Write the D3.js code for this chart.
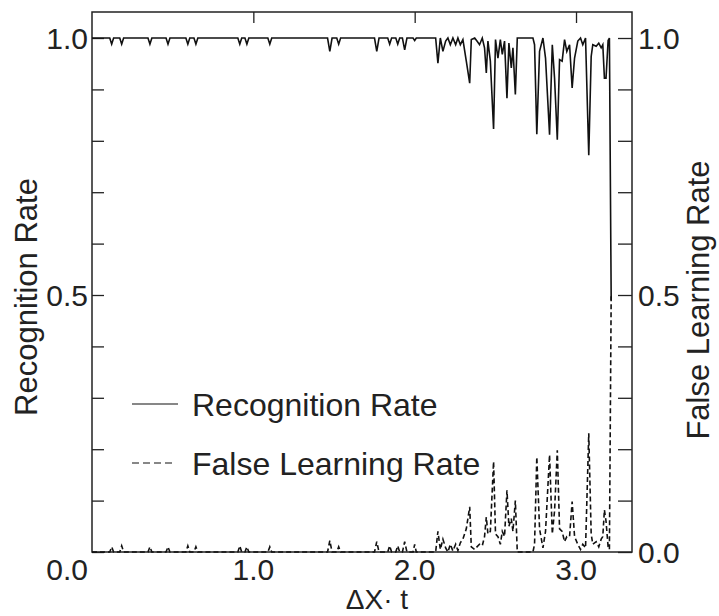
<!DOCTYPE html>
<html lang="en">
<head>
<meta charset="UTF-8">
<title>Recognition Rate vs False Learning Rate</title>
<script src="https://d3js.org/d3.v7.min.js"></script>
<style>
    body { margin: 0; background: white; }
    text { font-family: "Liberation Sans", Arial, sans-serif; fill: #222; }
    .frame { fill: none; stroke: #222; stroke-width: 1.5; }
    .tick line { stroke: #222; stroke-width: 1.3; }
</style>
</head>
<body>
<svg id="chart"></svg>
<script>
// x values (ΔX·t) shared by both series
var xs = [0.00, 0.110, 0.122, 0.134, 0.172, 0.184, 0.196, 0.347, 0.359, 0.371, 0.459, 0.471, 0.483,
    0.582, 0.594, 0.606, 0.632, 0.644, 0.656, 0.904, 0.916, 0.928, 0.948, 0.960, 0.972,
    1.090, 1.102, 1.114, 1.460, 1.474, 1.488, 1.517, 1.529, 1.541, 1.751, 1.765, 1.779,
    1.833, 1.845, 1.857, 1.883, 1.895, 1.907, 1.924, 1.938, 1.952, 1.990, 2.000, 2.010,
    2.130, 2.144, 2.159, 2.175, 2.192, 2.206, 2.221, 2.237, 2.254, 2.268, 2.283, 2.299,
    2.320, 2.341, 2.351, 2.372, 2.386, 2.402, 2.419, 2.433, 2.444, 2.454, 2.469, 2.489,
    2.501, 2.516, 2.531, 2.543, 2.557, 2.572, 2.584, 2.599, 2.609, 2.624, 2.636, 2.733,
    2.743, 2.757, 2.774, 2.795, 2.811, 2.836, 2.853, 2.867, 2.884, 2.898, 2.914, 2.929,
    2.943, 2.960, 2.976, 2.991, 3.011, 3.028, 3.042, 3.059, 3.079, 3.094, 3.104, 3.125,
    3.141, 3.156, 3.166, 3.176, 3.186, 3.199, 3.207, 3.218];

var recognition = [1.0, 1.0, 0.988, 1.0, 1.0, 0.988, 1.0, 1.0, 0.988, 1.0, 1.0, 0.988, 1.0,
    1.0, 0.988, 1.0, 1.0, 0.988, 1.0, 1.0, 0.988, 1.0, 1.0, 0.988, 1.0,
    1.0, 0.988, 1.0, 1.0, 0.974, 1.0, 1.0, 0.988, 1.0, 1.0, 0.974, 1.0,
    1.0, 0.988, 1.0, 1.0, 0.988, 1.0, 1.0, 0.977, 1.0, 1.0, 0.995, 1.0,
    1.0, 0.951, 1.0, 0.974, 0.994, 1.0, 0.987, 1.0, 0.987, 1.0, 0.987, 0.997,
    0.955, 0.912, 0.997, 1.0, 0.994, 0.987, 1.0, 0.981, 0.932, 0.994, 0.955, 0.823,
    0.997, 0.961, 0.997, 0.968, 0.994, 0.883, 0.990, 0.942, 0.981, 0.890, 1.0, 1.0,
    0.987, 0.813, 0.974, 1.0, 0.961, 0.812, 0.987, 0.922, 0.802, 0.958, 0.955, 0.997,
    0.974, 0.987, 0.903, 0.961, 0.994, 1.0, 0.987, 1.0, 0.772, 0.964, 0.987, 0.984,
    0.990, 0.981, 0.987, 0.922, 0.922, 0.995, 1.0, 0.490];

var falseLearning = [0.0, 0.0, 0.010, 0.0, 0.0, 0.012, 0.0, 0.0, 0.010, 0.0, 0.0, 0.010, 0.0,
    0.0, 0.012, 0.0, 0.0, 0.010, 0.0, 0.0, 0.012, 0.0, 0.0, 0.010, 0.0,
    0.0, 0.010, 0.0, 0.0, 0.022, 0.0, 0.0, 0.010, 0.0, 0.0, 0.020, 0.0,
    0.0, 0.012, 0.0, 0.0, 0.012, 0.0, 0.0, 0.020, 0.0, 0.0, 0.015, 0.0,
    0.0, 0.040, 0.005, 0.025, 0.008, 0.0, 0.015, 0.002, 0.015, 0.003, 0.018, 0.025,
    0.045, 0.088, 0.010, 0.005, 0.010, 0.015, 0.012, 0.030, 0.068, 0.035, 0.040, 0.176,
    0.035, 0.030, 0.015, 0.040, 0.030, 0.120, 0.050, 0.065, 0.040, 0.100, 0.0, 0.0,
    0.015, 0.185, 0.045, 0.008, 0.040, 0.189, 0.035, 0.080, 0.198, 0.045, 0.040, 0.020,
    0.030, 0.030, 0.098, 0.030, 0.015, 0.005, 0.015, 0.008, 0.231, 0.035, 0.015, 0.020,
    0.010, 0.025, 0.030, 0.082, 0.060, 0.010, 0.005, 0.500];

var xTicks = [1.0, 2.0, 3.0];
var xTickLabels = ["1.0", "2.0", "3.0"];
var yMinorTicks = [0.0, 0.1, 0.2, 0.3, 0.4, 0.5, 0.6, 0.7, 0.8, 0.9, 1.0];
var yTickLabels = ["0.0", "0.5", "1.0"];
var legendLabels = ["Recognition Rate", "False Learning Rate"];

var width = 719, height = 616;
var plotLeft = 92, plotRight = 632, plotTop = 12, plotBottom = 552;

var svg = d3.select("#chart").attr("width", width).attr("height", height);

var x = d3.scaleLinear().domain([0, 3.347]).range([plotLeft, plotRight]);
var y = d3.scaleLinear().domain([0, 1.0506]).range([plotBottom, plotTop]);

// frame
svg.append("rect").attr("class", "frame")
    .attr("x", plotLeft).attr("y", plotTop)
    .attr("width", plotRight - plotLeft).attr("height", plotBottom - plotTop);

// inward ticks
svg.append("g").attr("transform", "translate(" + plotLeft + ",0)")
    .call(d3.axisRight(y).tickValues(yMinorTicks).tickSize(12).tickFormat(""))
    .call(g => g.select(".domain").remove());
svg.append("g").attr("transform", "translate(" + plotRight + ",0)")
    .call(d3.axisLeft(y).tickValues(yMinorTicks).tickSize(14).tickFormat(""))
    .call(g => g.select(".domain").remove());
svg.append("g").attr("transform", "translate(0," + plotTop + ")")
    .call(d3.axisBottom(x).tickValues(xTicks).tickSize(11).tickFormat(""))
    .call(g => g.select(".domain").remove());

// tick labels
svg.selectAll(".xlab").data(xTicks).enter().append("text")
    .attr("x", d => x(d)).attr("y", 580)
    .attr("text-anchor", "middle").attr("font-size", 30)
    .text((d, i) => xTickLabels[i]);

svg.selectAll(".ylabL").data([0.5, 1.0]).enter().append("text")
    .attr("x", plotLeft - 4).attr("y", d => y(d) + 11)
    .attr("text-anchor", "end").attr("font-size", 30)
    .text(d => d.toFixed(1));
// corner label sits below the axis
svg.append("text").attr("x", plotLeft - 4).attr("y", 580)
    .attr("text-anchor", "end").attr("font-size", 30).text(yTickLabels[0]);

svg.selectAll(".ylabR").data([0.0, 0.5, 1.0]).enter().append("text")
    .attr("x", plotRight + 6).attr("y", d => y(d) + 11)
    .attr("text-anchor", "start").attr("font-size", 30)
    .text(d => d.toFixed(1));

// axis titles
svg.append("text").attr("transform", "translate(37,297) rotate(-90)")
    .attr("text-anchor", "middle").attr("font-size", 31).text("Recognition Rate");
svg.append("text").attr("transform", "translate(709,300) rotate(-90)")
    .attr("text-anchor", "middle").attr("font-size", 31).text("False Learning Rate");
svg.append("text").attr("x", 377).attr("y", 609)
    .attr("text-anchor", "middle").attr("font-size", 28)
    .text("\u0394X\u00b7 t");

// data lines
var lineRec = d3.line().x((d, i) => x(xs[i])).y(d => y(d));
svg.append("path").datum(recognition)
    .attr("d", lineRec).attr("fill", "none")
    .attr("stroke", "#111").attr("stroke-width", 1.6);

svg.append("path").datum(falseLearning)
    .attr("d", lineRec).attr("fill", "none")
    .attr("stroke", "#111").attr("stroke-width", 1.6)
    .attr("stroke-dasharray", "5,3");

// legend
var legendY = [404, 463];
var legend = svg.selectAll(".legend").data(legendLabels).enter().append("g")
    .attr("transform", (d, i) => "translate(0," + legendY[i] + ")");
legend.append("line")
    .attr("x1", 132).attr("x2", (d, i) => i === 1 ? 172 : 178).attr("y1", 0).attr("y2", 0)
    .attr("stroke", "#111").attr("stroke-width", 1.2)
    .attr("stroke-dasharray", (d, i) => i === 1 ? "7,4" : null);
legend.append("text")
    .attr("x", 192).attr("y", 12).attr("font-size", 32)
    .text(d => d);
</script>
</body>
</html>
